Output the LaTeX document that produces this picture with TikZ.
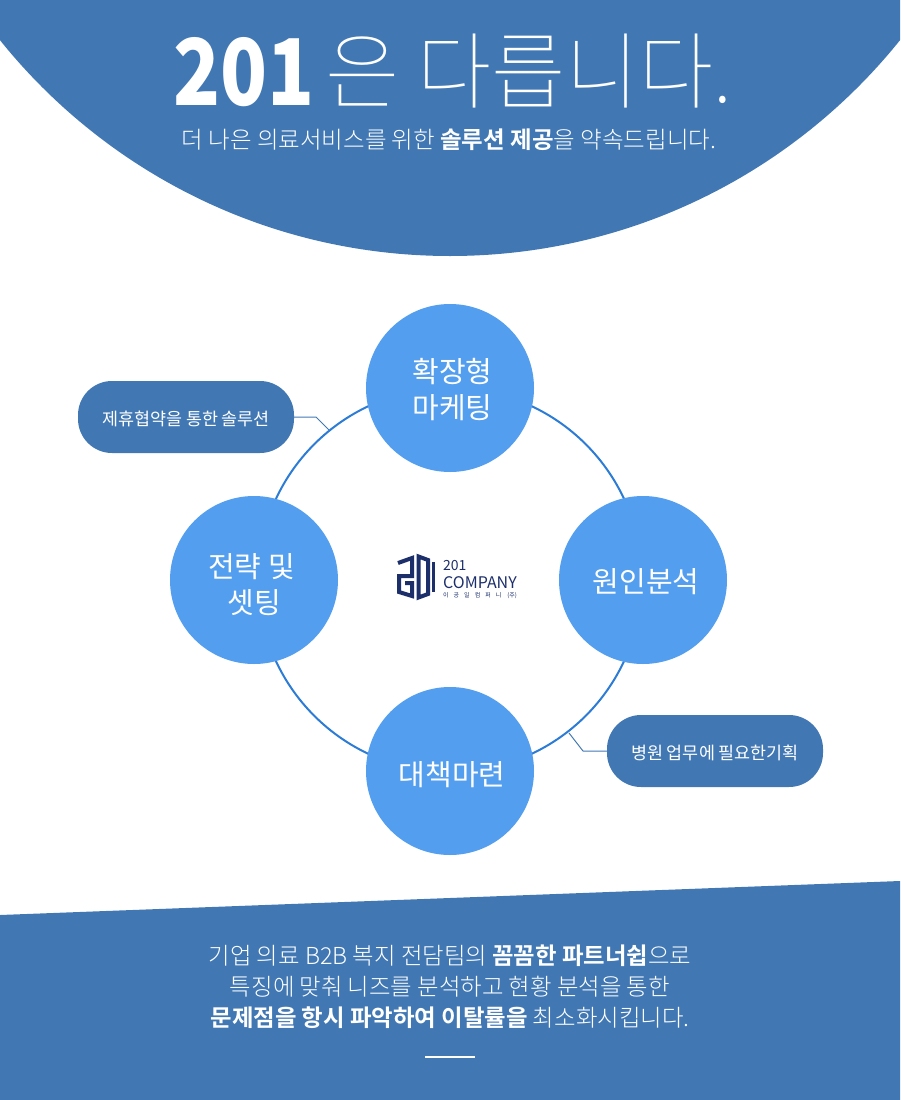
\documentclass[tikz,border=0pt]{standalone}
\usepackage{fontspec}
\setmainfont{Noto Sans CJK KR}[UprightFont=* Light,BoldFont=* Bold]
\newfontfamily\titlefont{Noto Sans CJK KR Thin}
\newfontfamily\blackfont{Noto Sans CJK KR Black}
\newfontfamily\plainfont{Noto Sans CJK KR}
\newcommand{\firstline}[1]{\rule{0pt}{#1}}
\newcommand{\nudge}[1]{\hspace*{#1}}
\definecolor{banner}{HTML}{4178B4}
\definecolor{disc}{HTML}{539EEE}
\definecolor{ring}{HTML}{2C7CD5}
\definecolor{logoblue}{HTML}{1C2F6B}
\tikzset{
  stage/.style={circle,fill=disc,minimum size=168pt,inner sep=0pt,text=white,align=center,
    font=\plainfont\fontsize{29}{36}\selectfont},
  note/.style={rounded corners=34pt,fill=banner,minimum width=216pt,minimum height=72pt,
    inner sep=0pt,text=white,align=center,font=\plainfont\fontsize{17.4}{20}\selectfont},
  leader/.style={draw=banner,line width=1pt},
  paper/.style={text=white,align=center},
  logostroke/.style={logoblue,line width=4pt},
  logotext/.style={text=logoblue,inner sep=0pt,anchor=west}
}
\begin{document}
\begin{tikzpicture}[x=1pt,y=-1pt]
  \useasboundingbox (0,0) rectangle (900,1100);
  \begin{scope}
    \clip (0,0) rectangle (900,1100);
    \fill[banner] (450,-321) circle (577pt);
    \fill[banner] (0,915) -- (900,881) -- (900,1100) -- (0,1100) -- cycle;
  \end{scope}
  % heading
  \node[inner sep=0pt,anchor=base west,text=white,xscale=0.84] (head201) at (173,105)
    {\blackfont\fontsize{92}{92}\selectfont 201};
  \node[inner sep=0pt,anchor=base west,text=white,xscale=0.96] (headrest) at (325,102)
    {\titlefont\fontsize{84}{84}\selectfont 은 다릅니다.};
  \node[paper,font=\fontsize{23.5}{30}\selectfont] (subhead) at (449,140)
    {더 나은 의료서비스를 위한 \textbf{솔루션 제공}을 약속드립니다.};
  % ring with stages
  \coordinate (hub) at (450,580);
  \draw[ring,line width=2pt] (hub) circle (192pt);
  \node[stage] (top) at (450,388) {\firstline{28pt}\nudge{5pt}확장형\\\nudge{5pt}마케팅};
  \node[stage] (right) at (643,580) {\firstline{28pt}\nudge{6pt}원인분석};
  \node[stage] (bottom) at (450,771) {\firstline{31pt}\nudge{4pt}대책마련};
  \node[stage] (left) at (254,580) {\firstline{33pt}\nudge{-5pt}전략 및\\ 셋팅};
  % side notes
  \node[note] (noteleft) at (186,417) {\firstline{19pt}제휴협약을 통한 솔루션};
  \node[note] (noteright) at (715,751) {\firstline{19pt}병원 업무에 필요한기획};
  \coordinate (ringleft) at (329,430);
  \coordinate (ringright) at (569,733);
  \draw[leader] (noteleft.east) -- (316,417) -- (ringleft);
  \draw[leader] (noteright.west) -- (583,751) -- (ringright);
  % logo
  \draw[logostroke] (398,563) -- (412,558) -- (412,576) -- (399,576) -- (399,592) -- (412,596)
    -- (412,583) -- (405,583);
  \draw[logostroke] (418.5,556.5) -- (428,560) -- (428,594) -- (418.5,597.5) -- cycle;
  \draw[logoblue,line width=3pt] (433,562) -- (433,592);
  \node[logotext] (logotop) at (443,566) {\plainfont\fontsize{14}{14}\selectfont 201};
  \node[logotext] (logoname) at (443,583) {\plainfont\fontsize{16}{16}\selectfont COMPANY};
  \node[logotext] (logosub) at (443,595.5) {\plainfont\fontsize{6}{6}\selectfont 이\hspace{5pt}공\hspace{5pt}일\hspace{5pt}컴\hspace{5pt}퍼\hspace{5pt}니\hspace{6pt}(주)};
  % footer
  \node[paper,font=\fontsize{23.4}{31}\selectfont] (footer) at (450,987)
    {기업 의료 B2B 복지 전담팀의 \textbf{꼼꼼한 파트너쉽}으로\\
     특징에 맞춰 니즈를 분석하고 현황 분석을 통한\\
     \textbf{문제점을 항시 파악하여 이탈률을} 최소화시킵니다.};
  \coordinate (dashl) at (425,1057);
  \coordinate (dashr) at (475,1057);
  \draw[white,line width=1.6pt] (dashl) -- (dashr);
\end{tikzpicture}
\end{document}
